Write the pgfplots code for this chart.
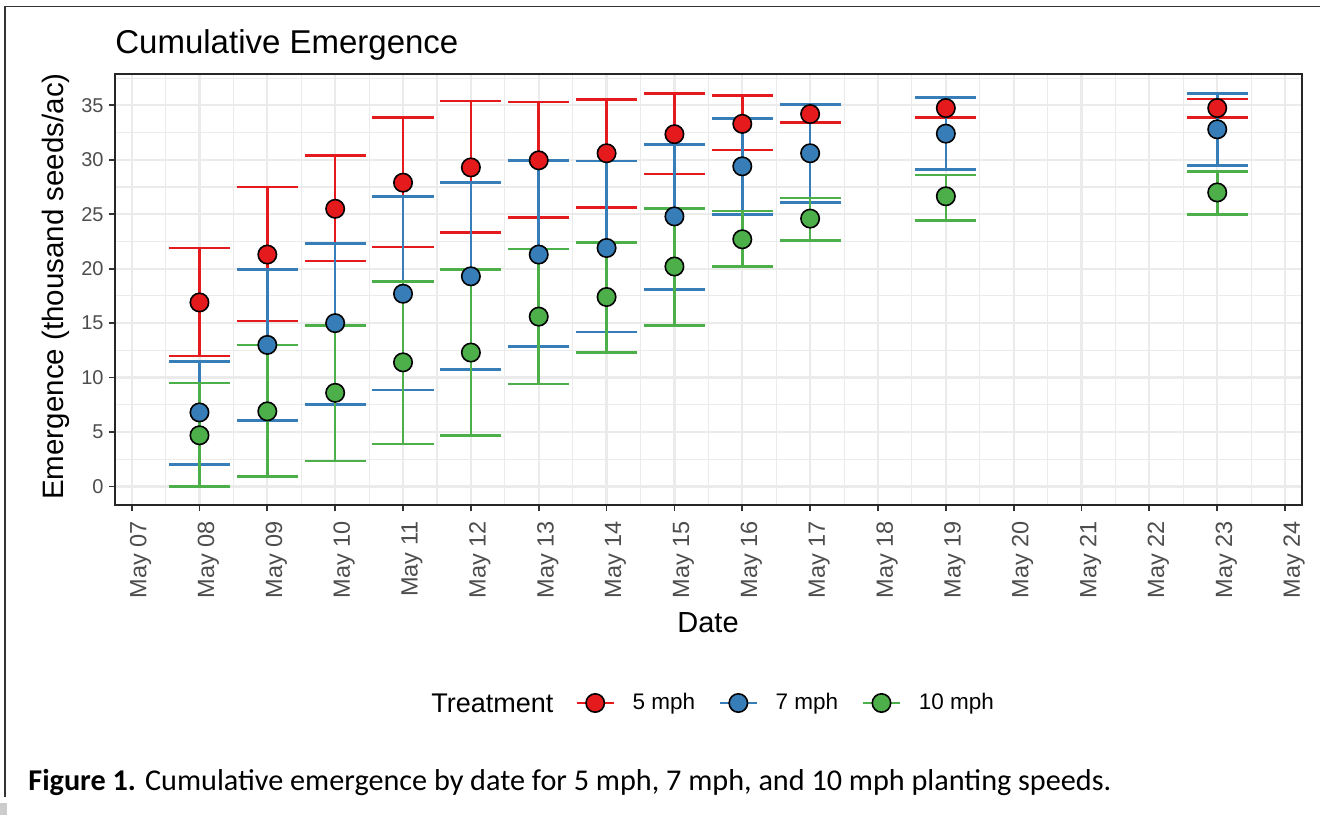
\documentclass[border=0pt]{standalone}
\usepackage{fontspec}
\setmainfont{Liberation Sans}
\newfontfamily\carlito{Carlito}
\usepackage{pgfplots}
\pgfplotsset{compat=1.18}
\usepackage{pgfplotstable}

\definecolor{c5}{HTML}{E41A1C}
\definecolor{c7}{HTML}{377EB8}
\definecolor{c10}{HTML}{4DAF4A}
\definecolor{gridc}{HTML}{EBEBEB}
\definecolor{tickc}{HTML}{4D4D4D}

\pgfplotstableread{
x y up lo
8 16.9 21.9 12.0
9 21.3 27.5 15.2
10 25.5 30.4 20.7
11 27.9 33.9 22.0
12 29.3 35.4 23.35
13 29.95 35.3 24.7
14 30.6 35.55 25.6
15 32.35 36.1 28.7
16 33.3 35.9 30.9
17 34.2 35.05 33.4
19 34.75 35.7 33.9
23 34.75 35.6 33.9
}\redT

\pgfplotstableread{
x y up lo
8 6.8 11.5 2.0
9 13.0 19.9 6.05
10 15.0 22.3 7.55
11 17.7 26.65 8.87
12 19.3 27.9 10.75
13 21.3 29.95 12.85
14 21.9 29.9 14.2
15 24.8 31.4 18.1
16 29.4 33.8 25.0
17 30.6 35.05 26.1
19 32.4 35.7 29.1
23 32.8 36.1 29.45
}\blueT

\pgfplotstableread{
x y up lo
8 4.7 9.5 0.0
9 6.9 13.0 0.9
10 8.6 14.8 2.35
11 11.4 18.8 3.9
12 12.3 19.9 4.7
13 15.6 21.8 9.4
14 17.4 22.4 12.3
15 20.2 25.5 14.8
16 22.7 25.3 20.2
17 24.6 26.5 22.6
19 26.65 28.6 24.45
23 27.0 28.95 25.0
}\greenT

\begin{document}
\begin{tikzpicture}
\begin{axis}[
  at={(57.5pt,155pt)}, anchor=south west, scale only axis,
  width=593.35pt, height=215.35pt,
  xmin=6.755, xmax=24.245, ymin=-1.7, ymax=37.85,
  xtick={7,...,24},
  xticklabels={May 07,May 08,May 09,May 10,May 11,May 12,May 13,May 14,May 15,May 16,May 17,May 18,May 19,May 20,May 21,May 22,May 23,May 24},
  ytick={0,5,...,35},
  minor xtick={7.5,8.5,...,23.5},
  minor ytick={2.5,7.5,...,37.5},
  grid=both,
  major grid style={gridc, line width=1.1pt},
  minor grid style={gridc, line width=0.55pt},
  tick align=outside, major tick length=3pt, minor tick length=0pt,
  tick style={black!80, line width=0.9pt},
  axis line style={black!85, line width=1pt},
  xtick pos=bottom, ytick pos=left,
  /pgf/number format/assume math mode=true,
  yticklabel style={font=\fontsize{10}{12}\selectfont, text=tickc, inner sep=0pt, xshift=-2.5pt},
  xticklabel style={xshift=4.5pt, yshift=-5pt, font=\fontsize{11.75}{14}\selectfont, text=tickc, rotate=90, anchor=east, inner sep=0pt},
  legend image code/.code={\draw[mark repeat=2,mark phase=2,#1] plot coordinates {(0pt,0pt) (9.25pt,0pt) (18.5pt,0pt)};},
  legend style={at={(axis description cs:0.38763,-0.45972)}, anchor=west, draw=none, fill=none,
    inner sep=0pt, legend columns=-1, font=\fontsize{11.25}{13}\selectfont,
    nodes={inner sep=0pt}, cells={anchor=west},
    /tikz/every odd column/.append style={column sep=8.75pt},
    /tikz/every even column/.append style={column sep=11.75pt}},
]
\addplot[only marks, mark=*, mark size=4.6pt, mark options={fill=c5, draw=black, line width=0.8pt}, forget plot] table[x=x,y=y]{\redT};
\addplot[only marks, mark=*, mark size=4.6pt, mark options={fill=c7, draw=black, line width=0.8pt}, forget plot] table[x=x,y=y]{\blueT};
\addplot[only marks, mark=*, mark size=4.6pt, mark options={fill=c10, draw=black, line width=0.8pt}, forget plot] table[x=x,y=y]{\greenT};

\addplot[c5, only marks, mark=none, forget plot,
  error bars/.cd, y dir=both, y explicit, error mark=|,
  error bar style={line width=1.3pt, c5},
  error mark options={c5, line width=1.3pt, mark size=15.3pt}]
  table[x=x, y=y, y error plus expr=\thisrow{up}-\thisrow{y}, y error minus expr=\thisrow{y}-\thisrow{lo}]{\redT};
\addplot[c7, only marks, mark=none, forget plot,
  error bars/.cd, y dir=both, y explicit, error mark=|,
  error bar style={line width=1.3pt, c7},
  error mark options={c7, line width=1.3pt, mark size=15.3pt}]
  table[x=x, y=y, y error plus expr=\thisrow{up}-\thisrow{y}, y error minus expr=\thisrow{y}-\thisrow{lo}]{\blueT};
\addplot[c10, only marks, mark=none, forget plot,
  error bars/.cd, y dir=both, y explicit, error mark=|,
  error bar style={line width=1.3pt, c10},
  error mark options={c10, line width=1.3pt, mark size=15.3pt}]
  table[x=x, y=y, y error plus expr=\thisrow{up}-\thisrow{y}, y error minus expr=\thisrow{y}-\thisrow{lo}]{\greenT};

\addlegendimage{c5, line width=1.3pt, mark=*, mark size=4.6pt, mark options={fill=c5, draw=black, line width=0.8pt}}
\addlegendentry{5 mph}
\addlegendimage{c7, line width=1.3pt, mark=*, mark size=4.6pt, mark options={fill=c7, draw=black, line width=0.8pt}}
\addlegendentry{7 mph}
\addlegendimage{c10, line width=1.3pt, mark=*, mark size=4.6pt, mark options={fill=c10, draw=black, line width=0.8pt}}
\addlegendentry{10 mph}
\end{axis}

\node[anchor=base west, inner sep=0pt, font=\fontsize{16.5}{19}\selectfont] at (57.5pt,380.85pt) {Cumulative Emergence};
\node[rotate=90, inner sep=0pt, font=\fontsize{14.75}{17}\selectfont] at (28pt,264.25pt) {Emergence (thousand seeds/ac)};
\node[anchor=base, inner sep=0pt, font=\fontsize{14.5}{17}\selectfont] at (354pt,91.5pt) {Date};
\node[anchor=base west, inner sep=0pt, font=\fontsize{13.5}{16}\selectfont] at (215.5pt,51.15pt) {Treatment};
\node[anchor=base west, inner sep=0pt, font=\carlito\fontsize{15.1}{18}\selectfont] at (14pt,12.5pt) {\textbf{Figure 1.} Cumulative emergence by date for 5 mph, 7 mph, and 10 mph planting speeds.};

\draw[line width=0.8pt, black!80] (2.35pt,9pt) -- (2.35pt,404.15pt) -- (660pt,404.15pt);
\fill[gray!40] (0pt,0pt) rectangle (3.5pt,6pt);

\pgfresetboundingbox
\path[use as bounding box] (0pt,0pt) rectangle (660pt,407.5pt);
\end{tikzpicture}
\end{document}
